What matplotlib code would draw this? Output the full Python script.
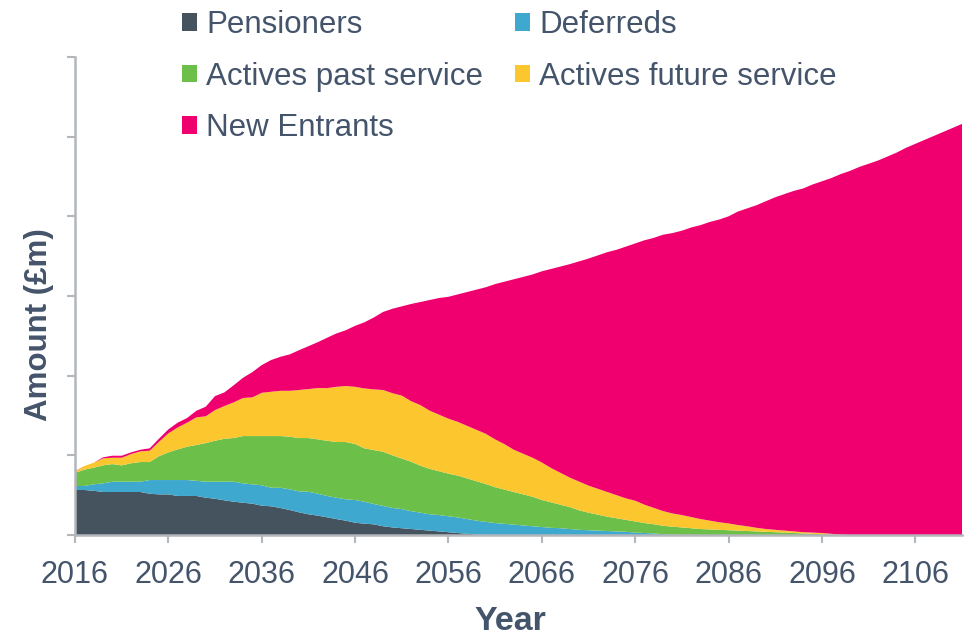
import matplotlib
matplotlib.use("Agg")
import matplotlib.pyplot as plt
from matplotlib.patches import Patch

plt.rcParams['font.family'] = ['Liberation Sans', 'DejaVu Sans']

years = list(range(2016, 2112))

pensioners = [56.5, 56.5, 55.5, 54, 54, 54, 54, 54, 51.8, 51, 51, 49, 49, 49, 46.8, 45.5,
              43.5, 41.8, 40.5, 39.3, 36.8, 36, 33.9, 31.4, 28.5, 26, 24.3, 22.2, 20, 18, 15.4, 14.2,
              13.4, 11, 9.5, 8.5, 7.5, 6.5, 5.5, 4.5, 3.5, 2.5, 1.5, 0.5] + [0] * 52

deferreds = [5, 5, 8.1, 10.8, 12.9, 12.9, 12.9, 12.9, 17.2, 18, 18, 20, 20, 19, 20.1, 21.4,
             23.4, 25.1, 24.3, 24.3, 25.6, 23.3, 25.4, 25.9, 26.3, 28.3, 27.5, 26.8, 26.8, 26.8, 28.5, 27.6,
             25.5, 25.5, 24.5, 24, 22.5, 21.5, 20.5, 20.5, 20, 19.5, 18.5, 17.5, 16.5, 15, 14, 13,
             12, 11, 10, 9, 8.5, 7.5, 6.5, 6, 5.5, 5, 4.5, 4, 3, 2.5, 2, 1, 0.5] + [0] * 31

actives_past = [16.5, 20.5, 20.9, 22.6, 22.1, 20.5, 23.1, 24.7, 22.6, 30, 34.7, 38.5, 41.8, 45, 48.5, 51.4,
                53.9, 54.8, 59.4, 60.6, 61.8, 64.9, 64.9, 66, 66.9, 67.4, 68.2, 69.3, 69.9, 71.9, 70.3, 67,
                67.7, 68, 66, 63.5, 62, 59, 57, 55, 53.5, 52.5, 51, 49.5, 47.5, 45, 43, 41,
                39, 37, 34, 32, 29.5, 27.5, 24.5, 22, 20, 18, 16.5, 15, 14, 12.5, 11.5, 10.5,
                10, 9.5, 8.5, 7.5, 7, 6.5, 6, 5.5, 5, 4.5, 4, 3.5, 3, 2.5, 2, 1.5,
                1, 0.5] + [0] * 14

actives_future = [1.5, 4.6, 6.2, 8.8, 8, 9.6, 11.6, 13.4, 14.2, 18, 23.9, 27.5, 30.2, 34.7, 33.6, 38.5,
                  41.1, 44.8, 47.8, 48.6, 54.3, 55.6, 56.8, 57.7, 60.3, 61.5, 64.4, 66.1, 69.3, 70.3, 71.8, 75.2,
                  76.2, 77.5, 78, 79, 76, 76, 73, 71, 69, 67.5, 66, 64.5, 63, 60, 57, 53,
                  51, 49, 47, 43, 40, 37, 36, 34, 32.5, 31, 29, 27, 26, 23, 20.5, 18.5,
                  16.5, 15.5, 14, 12.5, 11, 9.5, 8.5, 7, 6, 4.5, 3.5, 3, 2.5, 2, 1.5, 1.5,
                  1.5, 1, 0.5] + [0] * 13

new_entrants = [0.5, 0, 0, 1.3, 2.5, 2.5, 2.1, 2, 3, 4, 5, 6, 5.8, 8.3, 12, 17.6,
                17.1, 21.5, 25.4, 31.7, 34.8, 39.8, 42.7, 45.7, 50, 53.8, 57.6, 63.2, 67, 70, 76.6, 83,
                90.2, 98, 106, 112, 122, 129.5, 139, 146.5, 153, 160, 168, 176, 184, 195, 204, 214,
                222, 230, 240, 250, 259, 268, 276.5, 285, 293, 301, 308, 316, 323, 332, 339, 347,
                352, 357, 363.5, 369, 375, 380, 385.5, 393.5, 399, 405, 411.5, 417.5, 422.5, 427.5, 431.5, 437,
                441.5, 446.5, 452.5, 457, 462, 466, 470, 475, 480, 486, 491, 496, 501, 506, 511, 516]

labels = ["Pensioners", "Deferreds", "Actives past service", "Actives future service", "New Entrants"]
colors = ["#45535e", "#3fa8cf", "#6cc04a", "#fcc62f", "#f0006e"]
text_col = "#44546a"
axis_col = "#b3b6ba"

fig = plt.figure(figsize=(9.65, 6.37), dpi=100)
ax = fig.add_axes([75 / 965, 1 - 535 / 637, 887 / 965, 478 / 637])

ax.stackplot(years, pensioners, deferreds, actives_past, actives_future, new_entrants,
             colors=colors, linewidth=0)

ax.set_xlim(2016, 2111)
ax.set_ylim(0, 600)
ax.set_xticks(range(2016, 2107, 10))
ax.set_yticks(range(0, 601, 100))
ax.set_yticklabels([])
ax.tick_params(axis='both', direction='out', length=6, width=1.5, color=axis_col,
               labelsize=22, labelcolor=text_col)
ax.tick_params(axis='x', pad=12)
for side in ['top', 'right']:
    ax.spines[side].set_visible(False)
for side in ['left', 'bottom']:
    ax.spines[side].set_color(axis_col)
    ax.spines[side].set_linewidth(1.8)

fig.text(510 / 965, 1 - 621 / 637, "Year", ha='center', va='center',
         fontsize=24.5, fontweight='bold', color=text_col)
fig.text(39 / 965, 1 - 325 / 637, "Amount (£m)", ha='center', va='center', rotation=90,
         fontsize=22.5, fontweight='bold', color=text_col)

handles = [Patch(facecolor=c, edgecolor='none') for c in colors]
order = [0, 2, 4, 1, 3]
fig.legend([handles[i] for i in order], [labels[i] for i in order],
           loc='upper left', bbox_to_anchor=(182 / 965, 1 - 10 / 637), ncol=2, frameon=False,
           borderpad=0, borderaxespad=0,
           fontsize=22.5, labelcolor=text_col, handlelength=0.48, handleheight=0.48,
           handletextpad=0.3, columnspacing=1.0, labelspacing=0.69)

fig.savefig("out.png", dpi=100)
